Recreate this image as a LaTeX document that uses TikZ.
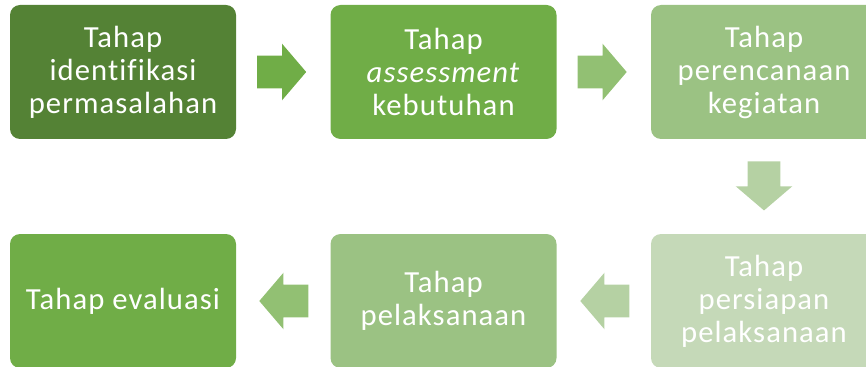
\documentclass[tikz,border=0pt]{standalone}
\usepackage{fontspec}
\setmainfont{Carlito}[Ligatures=NoCommon,LetterSpace=3.5]
\usetikzlibrary{shapes.arrows,calc}
\definecolor{greenA}{HTML}{548235}
\definecolor{greenB}{HTML}{70AD47}
\definecolor{greenC}{HTML}{9BC283}
\definecolor{greenD}{HTML}{C5D9B8}
\definecolor{arrowB}{HTML}{92C073}
\definecolor{arrowC}{HTML}{B5D1A3}
\tikzset{
  stagebox/.style={rounded corners=7.5pt,minimum width=169.5pt,minimum height=100.5pt,
    inner sep=2pt,text=white,align=center,font=\fontsize{23}{24.75}\selectfont},
  blockarrow/.style={single arrow,single arrow head extend=9pt,single arrow tip angle=99,
    minimum height=36.75pt,inner xsep=0pt,inner ysep=12pt}
}
\begin{document}
\begin{tikzpicture}[x=0.75pt,y=-0.75pt]
  \useasboundingbox (0,0) rectangle (866,367);
  \clip (0,0) rectangle (866,367);
  % top row
  \draw(123,72) node[stagebox,fill=greenA] (S1) {Tahap\\identifikasi\\permasalahan};
  \draw(443.5,72) node[stagebox,fill=greenB] (S2) {Tahap\\\textit{assessment}\\kebutuhan};
  \draw(764,72) node[stagebox,fill=greenC] (S3) {Tahap\\perencanaan\\kegiatan};
  % bottom row
  \draw(764,301) node[stagebox,fill=greenD] (S4) {Tahap\\persiapan\\pelaksanaan};
  \draw(443.5,301) node[stagebox,fill=greenC] (S5) {Tahap\\pelaksanaan};
  \draw(123,301) node[stagebox,fill=greenB] (S6) {Tahap evaluasi};
  % arrows
  \node[blockarrow,fill=greenB] (A12) at ($(S1.east)!.5!(S2.west)+(-8.5,0)$) {};
  \node[blockarrow,fill=arrowB] (A23) at ($(S2.east)!.5!(S3.west)+(-8.5,0)$) {};
  \node[blockarrow,fill=arrowC,rotate=-90] (A34) at ($(S3.south)!.5!(S4.north)+(0,-7.5)$) {};
  \node[blockarrow,fill=arrowC,rotate=180] (A45) at ($(S4.west)!.5!(S5.east)+(8,0)$) {};
  \node[blockarrow,fill=arrowB,rotate=180] (A56) at ($(S5.west)!.5!(S6.east)+(7.5,0)$) {};
\end{tikzpicture}
\end{document}
